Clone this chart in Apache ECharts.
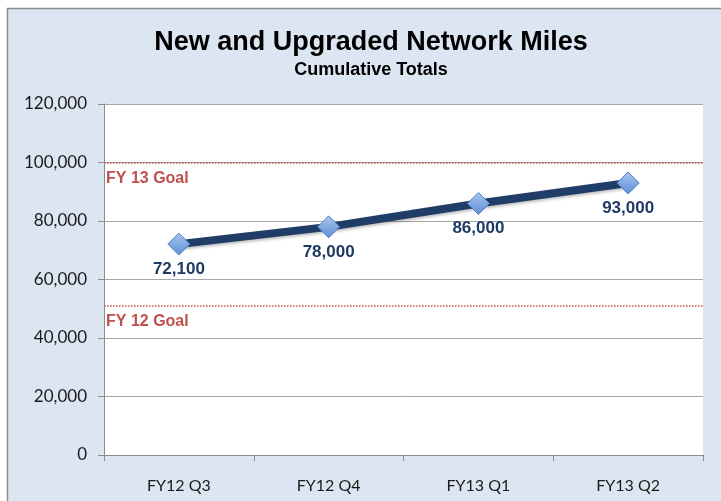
<!DOCTYPE html>
<html><head><meta charset="utf-8">
<script src="https://cdn.jsdelivr.net/npm/echarts@6/dist/echarts.min.js"></script>
<style>html,body{margin:0;padding:0;background:#fff}#c{width:721px;height:501px}</style>
</head><body><div id="c"></div>
<script>
var categories = ['FY12 Q3', 'FY12 Q4', 'FY13 Q1', 'FY13 Q2'];
var miles = [72100, 78000, 86000, 93000];
var goalNames = ['FY 13 Goal', 'FY 12 Goal'];
var goalValues = [100000, 51000];

var chart = echarts.init(document.getElementById('c'), null, {renderer: 'canvas'});
chart.setOption({
  backgroundColor: '#ffffff',
  animation: false,
  graphic: [{
    type: 'rect', z: -10, silent: true,
    shape: {x: 7.5, y: 8.5, width: 720, height: 500},
    style: {fill: '#dce6f2', stroke: '#8c8c8c', lineWidth: 1.5}
  }],
  title: {
    text: 'New and Upgraded Network Miles',
    subtext: 'Cumulative Totals',
    left: 366, top: 24, textAlign: 'center', itemGap: 5,
    textStyle: {fontFamily: 'Liberation Sans', fontWeight: 'bold', fontSize: 27, color: '#000'},
    subtextStyle: {fontFamily: 'Liberation Sans', fontWeight: 'bold', fontSize: 18, color: '#000'}
  },
  grid: {left: 104, top: 104, right: 18, bottom: 46, show: true, backgroundColor: '#ffffff', borderWidth: 0},
  xAxis: {
    type: 'category', data: categories, boundaryGap: true,
    axisLine: {lineStyle: {color: '#8c8c8c', width: 1}},
    axisTick: {show: true, length: 6, lineStyle: {color: '#8c8c8c'}},
    axisLabel: {fontFamily: 'Lato', fontSize: 16, color: '#1a1a1a', margin: 23}
  },
  yAxis: {
    type: 'value', min: 0, max: 120000, interval: 20000,
    axisLine: {show: true, lineStyle: {color: '#8c8c8c'}},
    axisTick: {show: true, length: 6, lineStyle: {color: '#8c8c8c'}},
    splitLine: {lineStyle: {color: '#a6a6a6', width: 1}},
    axisLabel: {fontFamily: 'Lato', fontSize: 17, color: '#1a1a1a', margin: 17,
      formatter: function (v) { return v.toLocaleString('en-US'); }}
  },
  series: [{
    type: 'line', data: miles,
    symbol: 'diamond', symbolSize: 22,
    lineStyle: {color: '#203d68', width: 8, shadowColor: 'rgba(0,0,0,0.25)', shadowBlur: 3, shadowOffsetY: 2},
    itemStyle: {
      color: new echarts.graphic.LinearGradient(0, 0, 0, 1, [{offset: 0, color: '#a9c6ee'}, {offset: 1, color: '#5d8fd6'}]),
      borderColor: '#4f7fc0', borderWidth: 1
    },
    label: {show: true, position: 'bottom', distance: 5,
      formatter: function (p) { return p.value.toLocaleString('en-US'); },
      fontFamily: 'Liberation Sans', fontWeight: 'bold', fontSize: 17, color: '#1f3a64'},
    markLine: {
      silent: true, symbol: 'none',
      lineStyle: {color: '#c0504d', type: 'dotted', width: 1.5},
      label: {show: true, position: 'insideStartBottom', distance: [2, 8],
        fontFamily: 'Liberation Sans', fontWeight: 'bold', fontSize: 16, color: '#c0504d',
        formatter: function (p) { return p.name; }},
      data: goalNames.map(function (n, i) { return {name: n, yAxis: goalValues[i]}; })
    }
  }]
});
</script></body></html>
